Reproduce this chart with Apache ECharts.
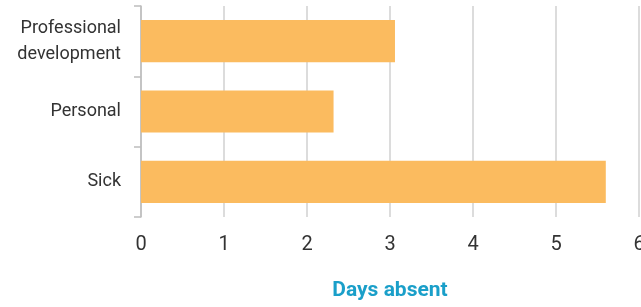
<!DOCTYPE html>
<html>
<head>
<meta charset="utf-8">
<script src="https://cdn.jsdelivr.net/npm/echarts@6/dist/echarts.min.js"></script>
<style>
  html, body { margin: 0; padding: 0; background: #fff; }
  #main { width: 641px; height: 307px; }
</style>
</head>
<body>
<div id="main"></div>
<script>
// categories from bottom to top
var categories = ['Sick', 'Personal', 'Professional\ndevelopment'];
var daysAbsent = [5.6, 2.32, 3.06];
var xTicks = [0, 1, 2, 3, 4, 5, 6];

var myChart = echarts.init(document.getElementById('main'));
var option = {
	animation: false,
	grid: {
		left: 141,
		right: 2,
		top: 6,
		bottom: 90,
		outerBoundsMode: 'none',
		containLabel: false
	},
	xAxis: {
		type: 'value',
		min: xTicks[0],
		max: xTicks[xTicks.length - 1],
		interval: 1,
		name: 'Days absent',
		nameLocation: 'middle',
		nameGap: 63,
		nameTextStyle: {
			color: '#1a9fc9',
			fontFamily: 'Roboto',
			fontWeight: 'bold',
			fontSize: 21
		},
		axisLine: { show: false },
		axisTick: { show: false },
		axisLabel: {
			color: '#333',
			fontFamily: 'Roboto',
			fontSize: 20,
			margin: 18
		},
		splitLine: {
			show: true,
			lineStyle: { color: '#d0d0d0', width: 1.5 }
		}
	},
	yAxis: {
		type: 'category',
		data: categories,
		axisLine: { show: true, lineStyle: { color: '#bdbdbd', width: 1.5 } },
		axisTick: { show: true, length: 7, lineStyle: { color: '#bdbdbd', width: 1.5 } },
		axisLabel: {
			color: '#333',
			fontFamily: 'Roboto',
			fontSize: 18,
			lineHeight: 26,
			align: 'right',
			margin: 20
		}
	},
	series: [{
		type: 'bar',
		data: daysAbsent,
		barCategoryGap: '40%',
		itemStyle: { color: '#fbbb5f' }
	}]
};
myChart.setOption(option);
</script>
</body>
</html>
